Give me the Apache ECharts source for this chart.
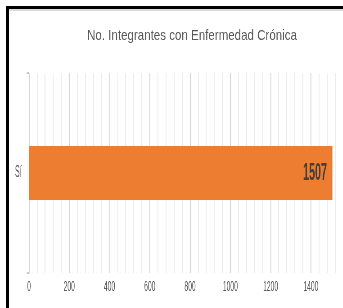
<!DOCTYPE html>
<html>
<head>
<meta charset="utf-8">
<script src="https://cdn.jsdelivr.net/npm/echarts@6/dist/echarts.min.js"></script>
<style>
	html, body { margin: 0; padding: 0; width: 343px; height: 308px; overflow: hidden; background: #fff; }
	#main { position: absolute; left: 0; top: 0; width: 800px; height: 308px; transform: scaleX(0.45); transform-origin: 0 0; }
	#frame { position: absolute; left: 6px; top: 6px; width: 400px; height: 400px; border-left: 3px solid #000; border-top: 3px solid #000; box-shadow: inset 0 2px 0 #dcdcdc; pointer-events: none; }
</style>
</head>
<body>
<div id="main"></div>
<div id="frame"></div>
<script>
// data
let title_text = 'No. Integrantes con Enfermedad Crónica';
let categories = ['Sí'];
let values = [1507];
let x_min = 0;
let x_max = 1600;
let x_step = 200;

// the picture is squeezed sideways, so the chart is drawn wide and scaled down
let squeeze = 0.45;

let chartDom = document.getElementById('main');
let myChart = echarts.init(chartDom);
let option;

option = {
	animation: false,
	backgroundColor: '#fff',
	graphic: [{
		type: 'text',
		x: 192 / squeeze,
		y: 36,
		scaleX: 0.77 / squeeze,
		style: {
			text: title_text,
			textAlign: 'center',
			textVerticalAlign: 'middle',
			fontSize: 15,
			fontFamily: 'Liberation Sans',
			fill: '#595959'
		}
	}],
	grid: {
		left: 64.4,
		right: 7,
		top: 73,
		bottom: 35
	},
	xAxis: {
		type: 'value',
		min: x_min,
		max: x_max,
		interval: x_step,
		axisLine: { show: false },
		axisTick: { show: false },
		axisLabel: {
			color: '#595959',
			fontSize: 15,
			fontFamily: 'Liberation Sans',
			margin: 6,
			formatter: (v) => String(v)
		},
		splitLine: {
			lineStyle: { color: '#d6d6d6', width: 2 }
		},
		minorTick: { show: false, splitNumber: 5 },
		minorSplitLine: {
			show: true,
			lineStyle: { color: '#ececec', width: 2 }
		}
	},
	yAxis: {
		type: 'category',
		data: categories,
		axisLine: { show: false },
		axisTick: {
			show: true,
			length: 5,
			lineStyle: { color: '#c8c8c8', width: 2 }
		},
		axisLabel: {
			color: '#595959',
			fontSize: 16,
			fontFamily: 'Liberation Sans',
			margin: 16
		}
	},
	series: [{
		type: 'bar',
		data: values,
		barWidth: 54,
		itemStyle: { color: '#ED7D31' },
		label: {
			show: true,
			position: 'insideRight',
			distance: 12,
			color: '#404040',
			fontWeight: 'bold',
			fontSize: 24,
			fontFamily: 'Liberation Sans'
		}
	}]
};

myChart.setOption(option);
</script>
</body>
</html>
